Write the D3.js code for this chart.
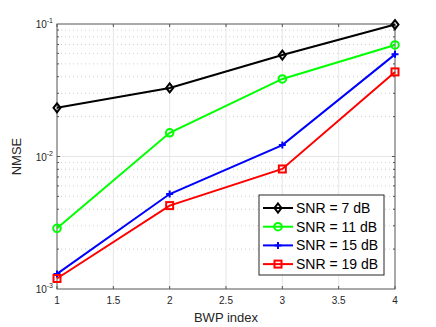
<!DOCTYPE html>
<html>
<head>
<meta charset="utf-8">
<script src="https://cdn.jsdelivr.net/npm/d3@7"></script>
<style>
body { margin: 0; background: #fff; }
text { font-family: "Liberation Sans", Arial, sans-serif; }
</style>
</head>
<body>
<svg id="chart" width="436" height="327"></svg>
<script>
let bwp = [1, 2, 3, 4]
let snr7 = [0.0233, 0.0329, 0.0583, 0.099]
let snr11 = [0.00287, 0.0151, 0.0385, 0.0695]
let snr15 = [0.0013, 0.00521, 0.0122, 0.059]
let snr19 = [0.0012, 0.00426, 0.00805, 0.0435]
let seriesNames = ['SNR = 7 dB', 'SNR = 11 dB', 'SNR = 15 dB', 'SNR = 19 dB']
let xTicks = [1, 1.5, 2, 2.5, 3, 3.5, 4]
let yDecades = [-3, -2, -1]

let series = [
	{ name: seriesNames[0], values: snr7, color: '#000000', marker: 'diamond' },
	{ name: seriesNames[1], values: snr11, color: '#00ff00', marker: 'circle' },
	{ name: seriesNames[2], values: snr15, color: '#0000ff', marker: 'plus' },
	{ name: seriesNames[3], values: snr19, color: '#ff0000', marker: 'square' }
]

let margin = { left: 57, right: 41, top: 24, bottom: 38 }
let width = 436, height = 327
let svg = d3.select('#chart')

let x = d3.scaleLinear().domain([1, 4]).range([margin.left, width - margin.right])
let y = d3.scaleLog().domain([1e-3, 1e-1]).range([height - margin.bottom, margin.top])

let x0 = x.range()[0], x1 = x.range()[1]
let y0 = y.range()[0], y1 = y.range()[1]

// minor y grid (dotted)
let minors = []
yDecades.slice(0, 2).forEach(d => {
	for (let k = 2; k <= 9; k++) minors.push(k * Math.pow(10, d))
})
svg.append('g').selectAll('line')
	.data(minors).enter().append('line')
	.attr('x1', x0).attr('x2', x1)
	.attr('y1', d => y(d)).attr('y2', d => y(d))
	.attr('stroke', '#d0d0d0').attr('stroke-width', 1)
	.attr('stroke-dasharray', '1,3')

// major grid
svg.append('g').selectAll('line')
	.data(xTicks.slice(1, -1)).enter().append('line')
	.attr('x1', d => x(d)).attr('x2', d => x(d))
	.attr('y1', y0).attr('y2', y1)
	.attr('stroke', '#e6e6e6')
svg.append('g').selectAll('line')
	.data([1e-2]).enter().append('line')
	.attr('x1', x0).attr('x2', x1)
	.attr('y1', d => y(d)).attr('y2', d => y(d))
	.attr('stroke', '#e6e6e6')

// ticks inward
let axisColor = '#555555'
let tickG = svg.append('g').attr('stroke', axisColor)
xTicks.forEach(t => {
	tickG.append('line').attr('x1', x(t)).attr('x2', x(t)).attr('y1', y0).attr('y2', y0 - 3)
	tickG.append('line').attr('x1', x(t)).attr('x2', x(t)).attr('y1', y1).attr('y2', y1 + 3)
})
minors.concat([1e-2]).forEach(v => {
	let len = minors.includes(v) ? 2 : 3
	tickG.append('line').attr('x1', x0).attr('x2', x0 + len).attr('y1', y(v)).attr('y2', y(v))
	tickG.append('line').attr('x1', x1).attr('x2', x1 - len).attr('y1', y(v)).attr('y2', y(v))
})

// box
svg.append('rect')
	.attr('x', x0).attr('y', y1)
	.attr('width', x1 - x0).attr('height', y0 - y1)
	.attr('fill', 'none').attr('stroke', axisColor).attr('stroke-width', 1)

// x tick labels
svg.append('g').selectAll('text')
	.data(xTicks).enter().append('text')
	.attr('x', d => x(d)).attr('y', y0 + 15)
	.attr('text-anchor', 'middle')
	.attr('font-size', 10).attr('fill', '#262626')
	.text(d => d)

// y tick labels 10^n
let yl = svg.append('g').selectAll('text')
	.data(yDecades).enter().append('text')
	.attr('x', x0 - 4).attr('y', d => y(Math.pow(10, d)) + 4)
	.attr('text-anchor', 'end')
	.attr('font-size', 10).attr('fill', '#262626')
yl.append('tspan').text('10')
yl.append('tspan').attr('dy', -5).attr('font-size', 7).text(d => '-' + Math.abs(d))

// axis titles
svg.append('text')
	.attr('x', (x0 + x1) / 2).attr('y', height - 5)
	.attr('text-anchor', 'middle').attr('font-size', 13).attr('fill', '#262626')
	.text('BWP index')
svg.append('text')
	.attr('transform', `translate(21,${(y0 + y1) / 2}) rotate(-90)`)
	.attr('text-anchor', 'middle').attr('font-size', 13).attr('fill', '#262626')
	.text('NMSE')

let drawMarker = (g, type, cx, cy, color) => {
	if (type === 'diamond') {
		g.append('path').attr('d', `M${cx},${cy - 4.5}L${cx + 3.5},${cy}L${cx},${cy + 4.5}L${cx - 3.5},${cy}Z`)
			.attr('fill', 'none').attr('stroke', color).attr('stroke-width', 2)
	} else if (type === 'circle') {
		g.append('circle').attr('cx', cx).attr('cy', cy).attr('r', 3.8)
			.attr('fill', 'none').attr('stroke', color).attr('stroke-width', 2)
	} else if (type === 'plus') {
		g.append('path').attr('d', `M${cx - 3.5},${cy}H${cx + 3.5}M${cx},${cy - 3.5}V${cy + 3.5}`)
			.attr('stroke', color).attr('stroke-width', 2)
	} else {
		g.append('rect').attr('x', cx - 3.5).attr('y', cy - 3.5).attr('width', 7).attr('height', 7)
			.attr('fill', 'none').attr('stroke', color).attr('stroke-width', 2)
	}
}

let line = d3.line().x(d => x(d[0])).y(d => y(d[1]))

series.forEach(s => {
	let pts = bwp.map((b, i) => [b, s.values[i]])
	let g = svg.append('g')
	g.append('path').attr('d', line(pts))
		.attr('fill', 'none').attr('stroke', s.color).attr('stroke-width', 2)
	pts.forEach(p => drawMarker(g, s.marker, x(p[0]), y(p[1]), s.color))
})

// legend
let lg = svg.append('g')
lg.append('rect').attr('x', 259).attr('y', 195).attr('width', 125).attr('height', 80)
	.attr('fill', '#fff').attr('stroke', '#262626').attr('stroke-width', 1)
series.forEach((s, i) => {
	let cy = 208 + i * 18.7
	lg.append('line').attr('x1', 263).attr('x2', 293).attr('y1', cy).attr('y2', cy)
		.attr('stroke', s.color).attr('stroke-width', 2)
	drawMarker(lg, s.marker, 278, cy, s.color)
	lg.append('text').attr('x', 296).attr('y', cy + 5)
		.attr('font-size', 14).attr('fill', '#000')
		.text(s.name)
})
</script>
</body>
</html>
